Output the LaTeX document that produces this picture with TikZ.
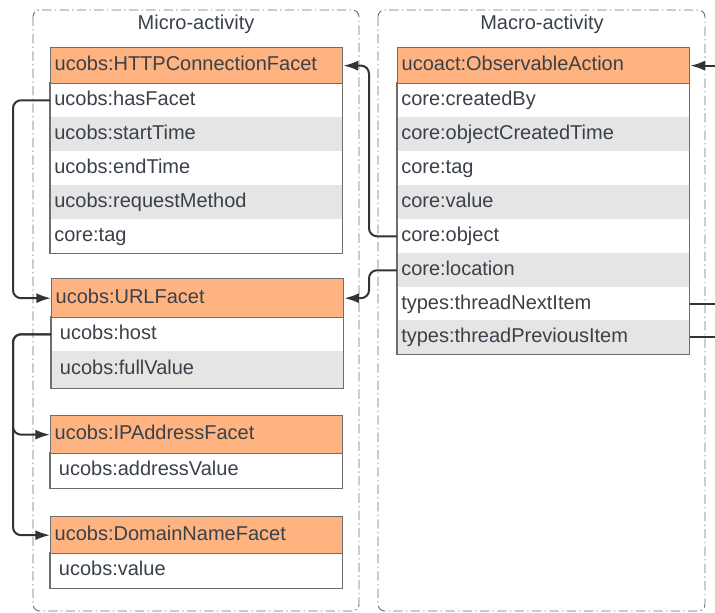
\documentclass[tikz,border=0pt]{standalone}
\usepackage{fontspec}
\setmainfont{Liberation Sans}
\usetikzlibrary{arrows.meta}
\definecolor{headorange}{HTML}{FFB380}
\definecolor{stripe}{HTML}{E5E5E5}
\definecolor{ink}{HTML}{3A414A}
\definecolor{edge}{HTML}{6E6E6E}
\definecolor{wire}{HTML}{333333}
\tikzset{
	field/.style={anchor=north west, text width=213pt, inner xsep=3pt, inner ysep=0pt,
		minimum height=25.5pt, text=ink, font=\fontsize{15}{18}\selectfont, align=left,
		text height=11pt, text depth=3.5pt},
	head/.style={field, fill=headorange, draw=edge, line width=1pt, minimum height=27pt},
	plain/.style={field, fill=white},
	shade/.style={field, fill=stripe},
	indent/.style={text width=206pt, inner xsep=6.5pt},
	frame/.style={draw=edge, line width=1pt},
	group/.style={draw=edge, line width=0.7pt, rounded corners=5pt,
		dash pattern=on 7pt off 2.5pt on 1pt off 2.5pt},
	conn/.style={draw=wire, line width=1.5pt, rounded corners=6pt},
	tip/.style={-{Latex[length=11pt,width=7.5pt]}}
}
\begin{document}
\begin{tikzpicture}[x=0.75pt,y=-0.75pt]
			\useasboundingbox (0,0) rectangle (715,613);
			
			% containers
			\draw[group] (33,10) rectangle (359,611);
			\draw[group] (378,10) rectangle (705,611);
			\node[text=ink, font=\fontsize{15}{18}\selectfont] (microtitle) at (196,24) {Micro-activity};
			\node[text=ink, font=\fontsize{15}{18}\selectfont] (macrotitle) at (542,24) {Macro-activity};
			
			% HTTP connection facet
			\node[plain] (http1) at (50,83) {ucobs:hasFacet};
			\node[shade] (http2) at (50,117) {ucobs:startTime};
			\node[plain] (http3) at (50,151) {ucobs:endTime};
			\node[shade] (http4) at (50,185) {ucobs:requestMethod};
			\node[plain] (http5) at (50,219) {core:tag};
			\draw[frame] (50,83) rectangle (http5.south east);
			\node[head] (http) at (50,47) {ucobs:HTTPConnectionFacet};
			
			% URL facet
			\node[plain, indent] (url1) at (51,317) {ucobs:host};
			\node[shade, indent, minimum height=27.75pt] (url2) at (51,351) {ucobs:fullValue};
			\draw[frame] (51,317) rectangle (url2.south east);
			\node[head, minimum height=29.25pt] (url) at (51,278) {ucobs:URLFacet};
			
			% IP address facet
			\node[plain, indent, minimum height=26.25pt] (ip1) at (50,453) {ucobs:addressValue};
			\draw[frame] (50,453) rectangle (ip1.south east);
			\node[head, minimum height=28.5pt] (ip) at (50,415) {ucobs:IPAddressFacet};
			
			% domain name facet
			\node[plain, indent, minimum height=26.25pt] (dom1) at (50,553) {ucobs:value};
			\draw[frame] (50,553) rectangle (dom1.south east);
			\node[head, minimum height=27.75pt] (dom) at (50,516) {ucobs:DomainNameFacet};
			
			% observable action
			\node[plain] (act1) at (397,83) {core:createdBy};
			\node[shade] (act2) at (397,117) {core:objectCreatedTime};
			\node[plain] (act3) at (397,151) {core:tag};
			\node[shade] (act4) at (397,185) {core:value};
			\node[plain] (act5) at (397,219) {core:object};
			\node[shade] (act6) at (397,253) {core:location};
			\node[plain] (act7) at (397,287) {types:threadNextItem};
			\node[shade] (act8) at (397,320) {types:threadPreviousItem};
			\draw[frame] (397,83) rectangle (act8.south east);
			\node[head] (act) at (397,47) {ucoact:ObservableAction};
			
			% connectors
			\coordinate (actin) at (715,64);
			\coordinate (nextout) at (715,303);
			\coordinate (prevout) at (715,336);
			\draw[conn, tip] (act5.west) -- ++(-28,0) |- (http.east);
			\draw[conn, tip] (act6.west) -- ++(-28,0) |- (url.east);
			\draw[conn, tip] (http1.west) -- ++(-37,0) |- (url.west);
			\draw[conn, tip] (url1.west) -- ++(-38,0) |- (ip.west);
			\draw[conn, tip] (url1.west) -- ++(-38,0) |- (dom.west);
			\draw[conn, tip] (actin |- act.east) -- (act.east);
			\draw[conn] (act7.east) -- (act7.east -| nextout);
			\draw[conn] (act8.east) -- (act8.east -| prevout);
			\end{tikzpicture}
\end{document}
